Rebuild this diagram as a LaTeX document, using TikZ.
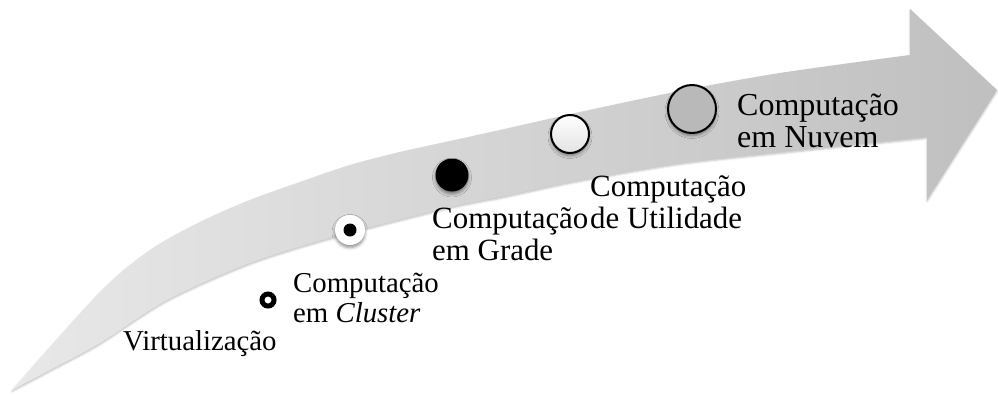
\documentclass[tikz,border=0pt]{standalone}
\usepackage{fontspec}
\setmainfont{Liberation Serif}
\usetikzlibrary{shadows.blur}
\begin{document}
\begin{tikzpicture}[x=1pt,y=-1pt,
  lbl/.style={anchor=base west, inner sep=0pt, align=left, text=black},
  dotnode/.style={circle, inner sep=0pt},
  softshadow/.style={blur shadow={shadow xshift=0pt, shadow yshift=-2.5pt, shadow blur radius=3pt, shadow opacity=45}}]
\useasboundingbox (0,0) rectangle (998,394);
% the arrow
\path[blur shadow={shadow xshift=0pt, shadow yshift=-1.5pt, shadow blur radius=2pt, shadow opacity=25},
      left color=gray!18, right color=gray!50]
  plot[smooth] coordinates {(12,390) (100,292) (150,250) (200,222) (250,200) (300,182) (350,165) (400,152) (450,141) (500,130) (580,112) (680,91) (780,73) (910,55)}
  -- (910,9) -- (997,90) -- (927,200)
  -- plot[smooth] coordinates {(927,137) (780,152) (680,163) (580,180) (500,197) (450,207) (333,237) (250,263) (167,300) (100,343) (50,370) (12,390)}
  -- cycle;
% markers
\node[dotnode, draw=black, line width=5pt, minimum size=12pt, fill=white] (c1) at (268,300) {};
\node[dotnode, fill=white, minimum size=30pt, softshadow] (c2) at (350,230) {};
\node[dotnode, fill=black, minimum size=13pt] (c2d) at (c2) {};
\node[dotnode, fill=black, minimum size=33pt, softshadow] (c3) at (452,175) {};
\node[dotnode, draw=black, line width=2pt, minimum size=38pt, top color=white, bottom color=gray!22, softshadow] (c4) at (570,134) {};
\node[dotnode, draw=black, line width=2pt, minimum size=48pt, fill=gray!55, softshadow] (c5) at (692,109) {};
% labels (anchor at baseline of the last line)
\node[lbl, font=\fontsize{28.8}{29.5}\selectfont] (t1) at (123,350) {Virtualização};
\node[lbl, font=\fontsize{28.8}{29.5}\selectfont] (t2) at (293,322) {Computação\\em \textit{Cluster}};
\node[lbl, font=\fontsize{30.9}{32}\selectfont] (t3) at (432,260) {Computação\\em Grade};
\node[lbl, font=\fontsize{30.9}{32}\selectfont] (t4) at (590,228) {Computação\\de Utilidade};
\node[lbl, font=\fontsize{32}{32}\selectfont] (t5) at (737,147) {Computação\\em Nuvem};
\end{tikzpicture}
\end{document}
